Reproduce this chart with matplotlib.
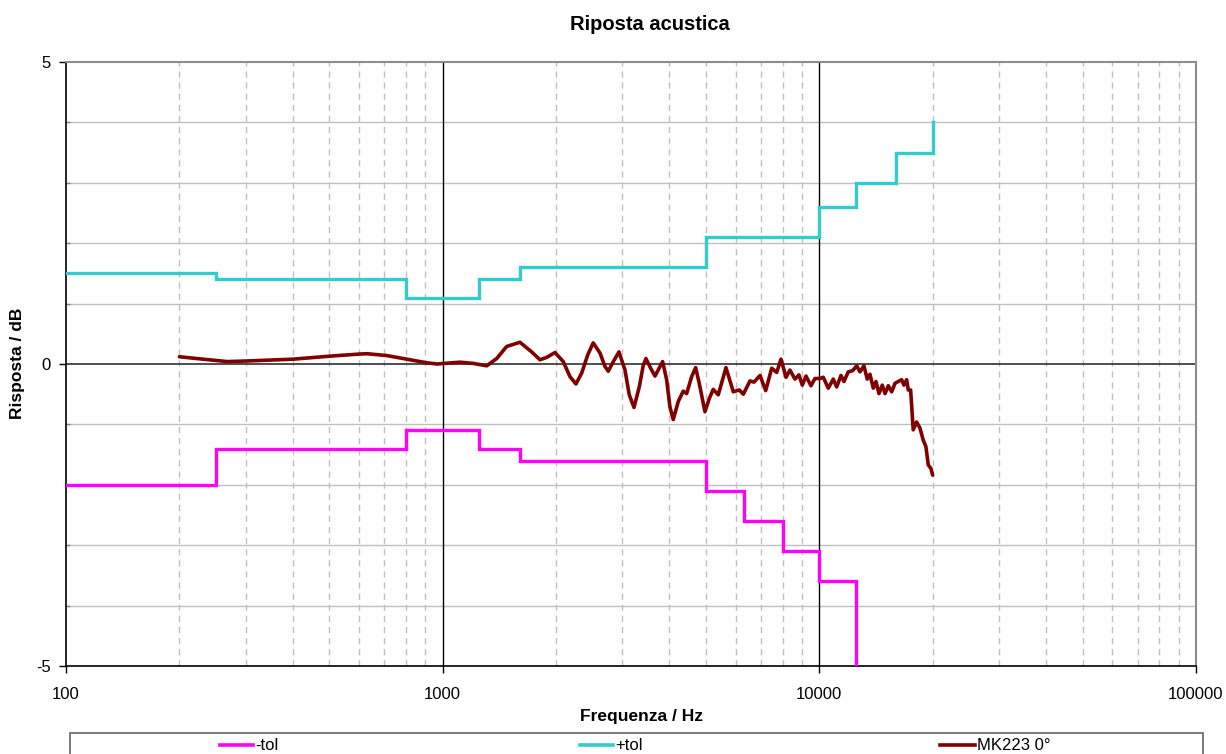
import matplotlib
matplotlib.use("Agg")
import matplotlib.pyplot as plt
from matplotlib.lines import Line2D
from matplotlib.patches import Rectangle
from matplotlib.ticker import FixedLocator, FixedFormatter, NullFormatter

plt.rcParams['font.family'] = ['Liberation Sans', 'DejaVu Sans']

# ---------------- data ----------------
plus_tol_freq = [100, 250, 800, 1250, 1600, 5000, 10000, 12500, 16000, 20000]
plus_tol_db = [1.5, 1.4, 1.1, 1.4, 1.6, 2.1, 2.6, 3.0, 3.5, 4.0]

minus_tol_freq = [100, 250, 800, 1250, 1600, 5000, 6300, 8000, 10000, 12500]
minus_tol_db = [-2.0, -1.4, -1.1, -1.4, -1.6, -2.1, -2.6, -3.1, -3.6, -6.0]

mk_freq = [200, 231, 268, 302, 401, 502, 603, 630, 710, 803, 907, 966, 1112, 1204, 1309,
           1391, 1479, 1604, 1723, 1813, 1889, 1987, 2090, 2178, 2259, 2339, 2427,
           2510, 2617, 2697, 2752, 2838, 2938, 3048, 3129, 3221, 3326, 3409, 3465,
           3566, 3662, 3837, 3932, 4012, 4094, 4222, 4352, 4444, 4581, 4695, 4799,
           4970, 5104, 5228, 5391, 5651, 5910, 6131, 6283, 6545, 6707, 6958,
           7205, 7474, 7706, 7911, 8157, 8356, 8616, 8829, 9010, 9216, 9502, 9737,
           10039, 10243, 10561, 10890, 11117, 11414, 11623, 11935, 12260, 12563,
           12818, 13135, 13403, 13628, 13905, 14137, 14400, 14692, 14938, 15244,
           15564, 15881, 16198, 16538, 16772, 17053, 17222, 17475, 17751, 18125,
           18496, 18874, 19187, 19461, 19783, 19990]
mk_db = [0.12, 0.08, 0.04, 0.05, 0.08, 0.13, 0.165, 0.17, 0.14, 0.08, 0.02, 0.0, 0.03, 0.01, -0.03,
         0.09, 0.29, 0.36, 0.20, 0.07, 0.11, 0.19, 0.04, -0.21, -0.33, -0.15, 0.15,
         0.35, 0.18, -0.04, -0.12, 0.04, 0.20, -0.10, -0.51, -0.72, -0.38, -0.02, 0.09,
         -0.07, -0.20, 0.04, -0.26, -0.71, -0.92, -0.62, -0.45, -0.49, -0.21, -0.06, -0.32,
         -0.79, -0.57, -0.42, -0.51, -0.06, -0.46, -0.43, -0.50, -0.28, -0.30, -0.19,
         -0.44, -0.07, -0.14, 0.08, -0.22, -0.10, -0.25, -0.18, -0.35, -0.20, -0.36, -0.24,
         -0.24, -0.22, -0.40, -0.25, -0.38, -0.19, -0.29, -0.13, -0.11, -0.03,
         -0.13, -0.03, -0.25, -0.17, -0.40, -0.29, -0.49, -0.35, -0.49, -0.36,
         -0.46, -0.32, -0.29, -0.26, -0.35, -0.26, -0.43, -0.43, -1.09, -0.96,
         -1.06, -1.26, -1.37, -1.67, -1.73, -1.84]

x_major = [100, 1000, 10000, 100000]
x_labels = ['100', '1000', '10000', '100000']
y_major = [-5, 0, 5]
y_labels = ['-5', '0', '5']

series_names = ['-tol', '+tol', 'MK223 0°']
series_colors = ['#FF00FF', '#33CCCC', '#800000']

# ---------------- figure ----------------
W, H = 1226, 754
fig = plt.figure(figsize=(W / 100, H / 100), dpi=100)
ax = fig.add_axes([66 / W, 88 / H, 1130 / W, 604 / H])
ax.set_xscale('log')
ax.set_xlim(100, 100000)
ax.set_ylim(-5, 5)

# grid
minor_freqs = [m * d for d in (100, 1000, 10000) for m in range(2, 10)]
for f in minor_freqs:
    ax.axvline(f, color='#c0c0c0', lw=1.0, ls=(0, (4.5, 3.5)), zorder=1)
for f in (1000, 10000):
    ax.axvline(f, color='black', lw=1.0, zorder=1.5)
for yv in range(-4, 5):
    if yv != 0:
        ax.axhline(yv, color='#c0c0c0', lw=1.0, zorder=1)
ax.axhline(0, color='#303030', lw=1.2, zorder=1.5)

# series
ax.step(minus_tol_freq, minus_tol_db, where='post', color=series_colors[0], lw=2.4,
        zorder=3, solid_joinstyle='miter')
ax.step(plus_tol_freq, plus_tol_db, where='post', color=series_colors[1], lw=2.4,
        zorder=3, solid_joinstyle='miter')
ax.plot(mk_freq, mk_db, color=series_colors[2], lw=2.6, zorder=4,
        solid_joinstyle='round', solid_capstyle='round')

# spines
for s in ('left', 'bottom'):
    ax.spines[s].set_color('black')
    ax.spines[s].set_linewidth(1.2)
for s in ('top', 'right'):
    ax.spines[s].set_color('#8c8c8c')
    ax.spines[s].set_linewidth(1.5)

# ticks
ax.xaxis.set_major_locator(FixedLocator(x_major))
ax.xaxis.set_major_formatter(FixedFormatter(x_labels))
ax.xaxis.set_minor_locator(FixedLocator(minor_freqs))
ax.xaxis.set_minor_formatter(NullFormatter())
ax.yaxis.set_major_locator(FixedLocator(y_major))
ax.yaxis.set_major_formatter(FixedFormatter(y_labels))
ax.yaxis.set_minor_locator(FixedLocator([-4, -3, -2, -1, 1, 2, 3, 4]))
ax.tick_params(axis='both', which='major', direction='out', length=5, width=1,
               labelsize=12, colors='black')
ax.tick_params(axis='x', which='major', pad=10)
ax.tick_params(axis='y', which='major', pad=6)
ax.tick_params(axis='x', which='minor', length=0)
ax.tick_params(axis='y', which='minor', direction='in', length=3, width=1, color='#808080')

# titles
fig.text(650 / W, 1 - 25 / H, 'Riposta acustica', ha='center', va='center',
         fontsize=14.5, fontweight='bold')
fig.text(641 / W, 1 - 717 / H, 'Frequenza / Hz', ha='center', va='center',
         fontsize=12.5, fontweight='bold')
fig.text(18 / W, 1 - 363 / H, 'Risposta / dB', ha='center', va='center',
         rotation=90, fontsize=12.5, fontweight='bold')

# legend (manual, bottom box)
fig.add_artist(Rectangle((70 / W, -0.02), 1133 / W, (754 - 733) / H + 0.02,
                         transform=fig.transFigure, facecolor='white',
                         edgecolor='#707070', lw=1.3))
leg_line_x = [(220, 253), (580, 613), (940, 975)]
leg_y = 1 - 745 / H
for (x0, x1), name, col in zip(leg_line_x, series_names, series_colors):
    fig.add_artist(Line2D([x0 / W, x1 / W], [leg_y, leg_y], transform=fig.transFigure,
                          color=col, lw=2.6))
    fig.text((x1 + 2) / W, leg_y, name, ha='left', va='center', fontsize=12)

fig.savefig('out.png', dpi=100)
